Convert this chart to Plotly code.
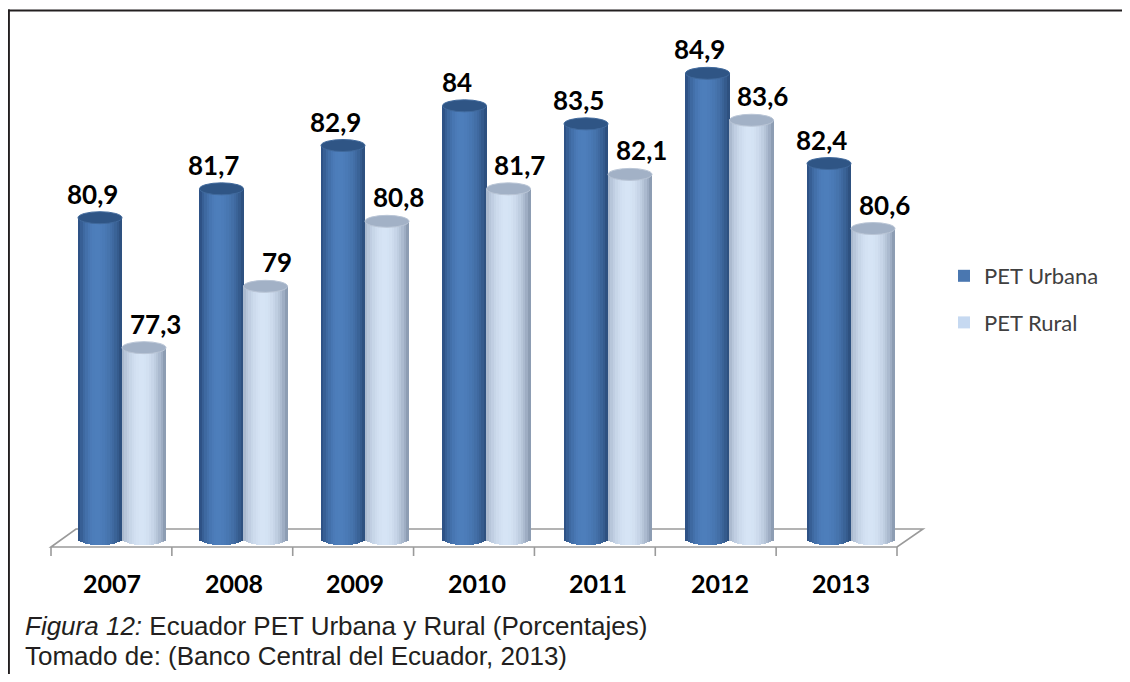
import plotly.graph_objects as go
import math

years = ["2007", "2008", "2009", "2010", "2011", "2012", "2013"]
pet_urbana = [80.9, 81.7, 82.9, 84.0, 83.5, 84.9, 82.4]
pet_rural = [77.3, 79.0, 80.8, 81.7, 82.1, 83.6, 80.6]
labels_urbana = ["80,9", "81,7", "82,9", "84", "83,5", "84,9", "82,4"]
labels_rural = ["77,3", "79", "80,8", "81,7", "82,1", "83,6", "80,6"]

# page has an 8px body margin; figure sized so the page does not overflow
PAGE = 8
FW, FH = 1130 - 2 * PAGE, 682 - 2 * PAGE
S = 121.5          # px per category (screen)
X0 = 122 - PAGE    # figure px of category 0
L = 23
W = 912
XR = [(L - X0) / S, (L + W - X0) / S]
FLOOR = 72.0
PXU = 36.1         # px per unit (y)
YF = 539 - PAGE    # figure px of the floor value
T, H = 32, 520
YR = [FLOOR - (T + H - YF) / PXU, FLOOR + (YF - T) / PXU]


def pxx(sx):
    return (sx - PAGE - L) / W


def pxy(sy):
    return 1 - (sy - PAGE - T) / H


def hex2rgb(h):
    h = h.lstrip("#")
    return [int(h[i:i + 2], 16) for i in (0, 2, 4)]


def lerp(c1, c2, s):
    a, b = hex2rgb(c1), hex2rgb(c2)
    return "rgb(%d,%d,%d)" % tuple(round(a[i] + (b[i] - a[i]) * s) for i in range(3))


def shade(t, tp, left, peak, right):
    if t < tp:
        d = (tp - t) / tp
        edge = left
    else:
        d = (t - tp) / (1 - tp)
        edge = right
    s = math.cos(d * math.pi / 2) ** 0.7
    return lerp(edge, peak, s)


BW = 44 / S        # cylinder width in x units
OFF = BW / 2
E = 6 / PXU        # ellipse half-height in y units
N = 18

series = [
    dict(name="PET Urbana", vals=pet_urbana, labels=labels_urbana, off=-OFF,
         left="#264778", peak="#4d7ebb", right="#284874", tp=0.42,
         top="#2f5585", topline="#40699c", legend="#4a77b0", lshift=-8),
    dict(name="PET Rural", vals=pet_rural, labels=labels_rural, off=OFF,
         left="#a0b0c6", peak="#d6e4f5", right="#7e8ea6", tp=0.45,
         top="#a2b1c6", topline="#b9c5d6", legend="#c6d9f1", lshift=11),
]

fig = go.Figure()
shapes = []
annotations = []

for s in series:
    for j in range(N):
        t = (j + 0.5) / N
        dx = (t - 0.5) * BW
        u = 2 * t - 1
        base_j = FLOOR - E * math.sqrt(max(0.0, 1 - u * u))
        xs = [i + s["off"] + dx for i in range(len(years))]
        fig.add_trace(go.Bar(
            x=xs, y=[v - base_j for v in s["vals"]], base=base_j,
            width=BW / N * 1.15,
            marker=dict(color=shade(t, s["tp"], s["left"], s["peak"], s["right"]),
                        line=dict(width=0)),
            showlegend=False, hoverinfo="skip"))
    for i, v in enumerate(s["vals"]):
        c = i + s["off"]
        shapes.append(dict(type="circle", xref="x", yref="y",
                           x0=c - BW / 2, x1=c + BW / 2, y0=v - E, y1=v + E,
                           fillcolor=s["top"], line=dict(color=s["topline"], width=1),
                           layer="above"))
        annotations.append(dict(x=c, y=v, xref="x", yref="y", text="<b>%s</b>" % s["labels"][i],
                                showarrow=False, yshift=24, xshift=s["lshift"],
                                font=dict(family="Lato", size=26, color="#000000")))

# legend entries
for k, s in enumerate(series):
    fig.add_trace(go.Bar(x=[None], y=[None], name=s["name"], legendgroup="g%d" % k,
                         marker=dict(color=s["legend"], line=dict(width=0))))

# floor (3D base)
grey = "#9a9a9a"
shapes.append(dict(type="path", xref="paper", yref="paper", layer="below",
                   path="M %f %f L %f %f L %f %f L %f %f Z" % (
                       pxx(51), pxy(547), pxx(76), pxy(529), pxx(923), pxy(529), pxx(897), pxy(547)),
                   line=dict(color=grey, width=1.6), fillcolor="white"))
for k in range(len(years) + 1):
    xp = 51 + k * (897 - 51) / len(years)
    shapes.append(dict(type="line", xref="paper", yref="paper", layer="below",
                       x0=pxx(xp), x1=pxx(xp), y0=pxy(547), y1=pxy(556),
                       line=dict(color=grey, width=1.6)))

# frame (left and top only)
frame_col = "#231f20"
shapes.append(dict(type="line", xref="paper", yref="paper",
                   x0=pxx(8.8), x1=pxx(8.8), y0=pxy(682 - PAGE), y1=pxy(9.4),
                   line=dict(color=frame_col, width=2.2)))
shapes.append(dict(type="line", xref="paper", yref="paper",
                   x0=pxx(7.7), x1=pxx(1130 - PAGE), y0=pxy(10.5), y1=pxy(10.5),
                   line=dict(color=frame_col, width=2.2)))

# year labels
for i, y in enumerate(years):
    annotations.append(dict(x=i, y=pxy(583), xref="x", yref="paper", text="<b>%s</b>" % y,
                            showarrow=False, xshift=-10, yanchor="middle",
                            font=dict(family="Lato", size=25, color="#000000")))

# caption
annotations.append(dict(x=pxx(23), y=pxy(626), xref="paper", yref="paper", xanchor="left", yanchor="middle",
                        text="<i>Figura 12:</i> Ecuador PET Urbana y Rural (Porcentajes)", showarrow=False,
                        font=dict(family="Liberation Sans", size=26, color="#231f20")))
annotations.append(dict(x=pxx(23), y=pxy(656), xref="paper", yref="paper", xanchor="left", yanchor="middle",
                        text="Tomado de: (Banco Central del Ecuador, 2013)", showarrow=False,
                        font=dict(family="Liberation Sans", size=26, color="#231f20")))

fig.update_layout(
    width=FW, height=FH,
    margin=dict(l=L, r=FW - L - W, t=T, b=FH - T - H, pad=0),
    paper_bgcolor="white", plot_bgcolor="rgba(0,0,0,0)",
    barmode="overlay", bargap=0,
    xaxis=dict(range=XR, visible=False, fixedrange=True),
    yaxis=dict(range=YR, visible=False, fixedrange=True),
    shapes=shapes, annotations=annotations,
    showlegend=True,
    legend=dict(x=pxx(944), y=pxy(255), xanchor="left", yanchor="top",
                font=dict(family="Lato", size=22, color="#404040"),
                tracegroupgap=15, bgcolor="rgba(0,0,0,0)", itemclick=False),
)

fig.write_html("out.html")
